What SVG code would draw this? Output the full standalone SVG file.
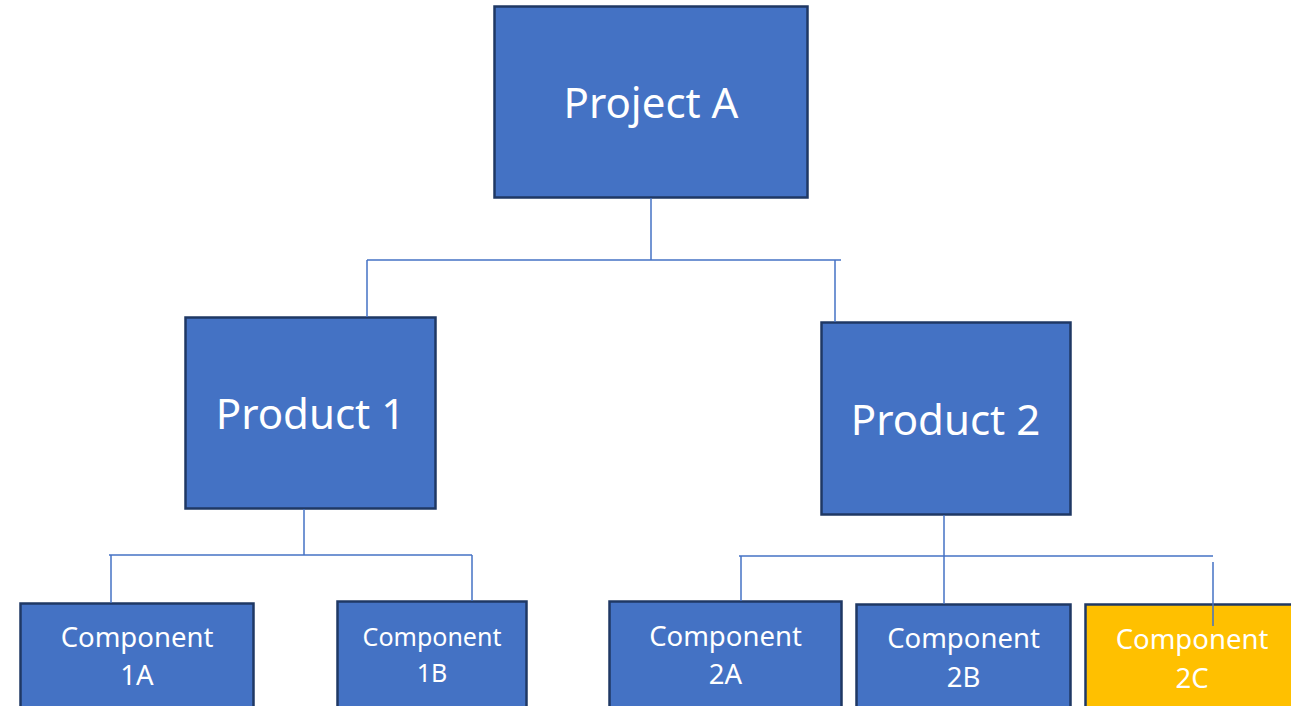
<svg xmlns="http://www.w3.org/2000/svg" width="1291" height="706" viewBox="0 0 1291 706">
<style>
.box{fill:#4472C4;stroke:#1F3864;stroke-width:2.5}
.yel{fill:#FFC000;stroke:#1F3864;stroke-width:2.5}
.t{font-family:"Noto Sans","Open Sans",sans-serif;fill:#fff;text-anchor:middle}
.big{font-size:42px}
.sm{font-size:27.5px}
.con{stroke:#4472C4;stroke-width:1.5;fill:none}
</style>
<rect width="1291" height="706" fill="#fff"/>
<g id="project-a"><rect class="box" x="494.5" y="6.5" width="313" height="191"/><text class="t big" x="651" y="118">Project A</text></g>
<g id="product-1"><rect class="box" x="185.5" y="317.5" width="250" height="191"/><text class="t big" x="310.5" y="429">Product 1</text></g>
<g id="product-2"><rect class="box" x="821.5" y="322.5" width="249" height="192"/><text class="t big" x="945.5" y="435">Product 2</text></g>
<g id="component-1a"><rect class="box" x="20.5" y="603.5" width="233" height="110"/><text class="t sm" x="137" y="647">Component</text><text class="t sm" x="137" y="685">1A</text></g>
<g id="component-1b"><rect class="box" x="337.5" y="601.5" width="189" height="112"/><text class="t" style="font-size:25px" x="432" y="646">Component</text><text class="t" style="font-size:25px" x="432" y="682">1B</text></g>
<g id="component-2a"><rect class="box" x="609.5" y="601.5" width="232" height="112"/><text class="t sm" x="725.5" y="646">Component</text><text class="t sm" x="725.5" y="684">2A</text></g>
<g id="component-2b"><rect class="box" x="856.5" y="604.5" width="214" height="110"/><text class="t sm" x="963.5" y="648">Component</text><text class="t sm" x="963.5" y="687">2B</text></g>
<g id="component-2c"><rect class="yel" x="1085.5" y="604.5" width="214" height="110"/><text class="t sm" x="1192" y="649">Component</text><text class="t sm" x="1192" y="688">2C</text></g>
<g id="connectors">
<line class="con" x1="651" y1="198" x2="651" y2="260"/>
<line class="con" x1="367" y1="260" x2="841" y2="260"/>
<line class="con" x1="367" y1="260" x2="367" y2="317"/>
<line class="con" x1="835" y1="260" x2="835" y2="322"/>
<line class="con" x1="304" y1="509" x2="304" y2="555"/>
<line class="con" x1="109" y1="555" x2="472" y2="555"/>
<line class="con" x1="111" y1="555" x2="111" y2="603"/>
<line class="con" x1="472" y1="555" x2="472" y2="601"/>
<line class="con" x1="944" y1="515" x2="944" y2="604"/>
<line class="con" x1="739" y1="556" x2="1213" y2="556"/>
<line class="con" x1="741" y1="556" x2="741" y2="601"/>
<line class="con" x1="1213" y1="562" x2="1213" y2="626"/>
</g>
</svg>
